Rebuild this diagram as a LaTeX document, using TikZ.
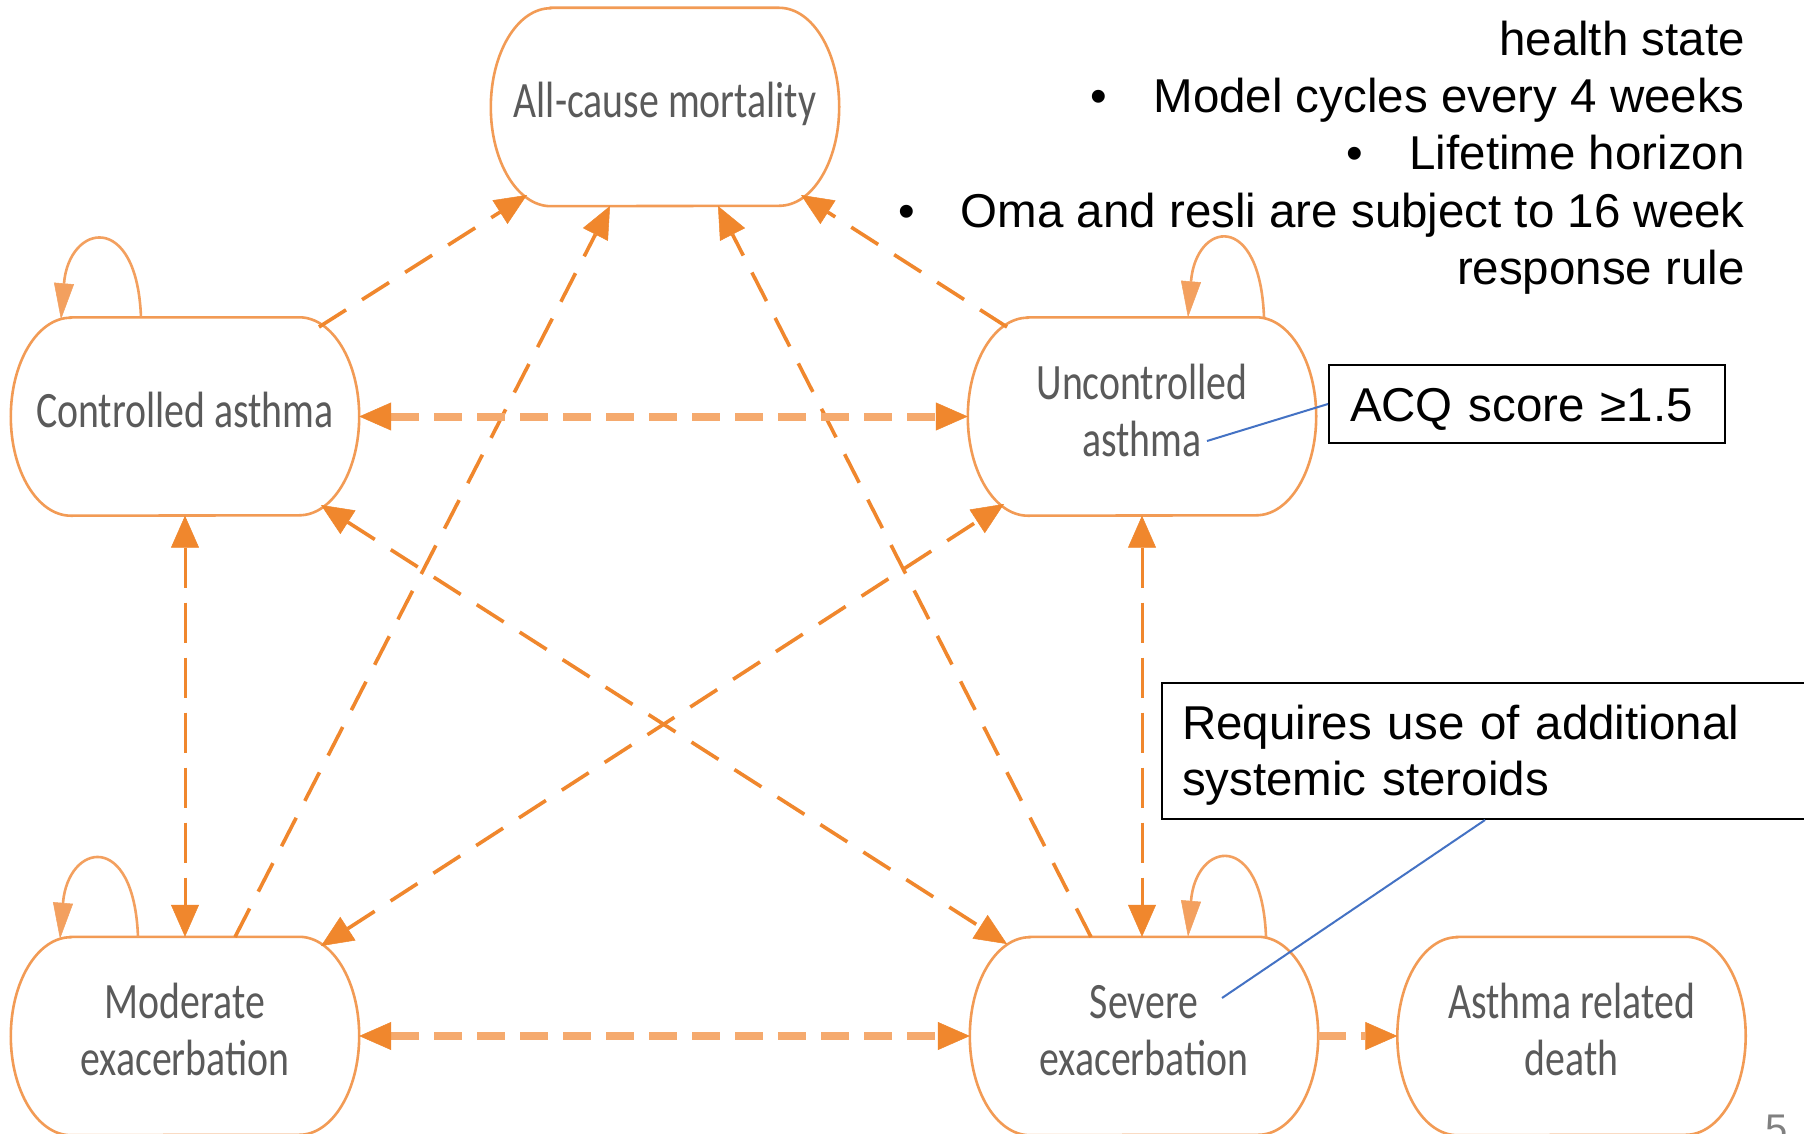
\documentclass[tikz,border=0pt]{standalone}
\usepackage{fontspec}
\setmainfont{Liberation Sans}
\newfontfamily\statefont[FakeStretch=0.78]{Carlito}
\usetikzlibrary{arrows.meta,calc}
\definecolor{arr}{RGB}{240,135,45}
\definecolor{arrlight}{RGB}{245,170,110}
\definecolor{boxline}{RGB}{242,155,85}
\definecolor{loopc}{RGB}{243,160,95}
\definecolor{statetxt}{RGB}{90,90,90}
\definecolor{leader}{RGB}{68,114,196}
\definecolor{pagenum}{RGB}{128,128,128}
\newcommand\sst{\rule[-14pt]{0pt}{50pt}}
\newcommand\rst{\rule[-12pt]{0pt}{52pt}}
\newcommand\stateoutline[1]{%
  \draw[stateline] ([xshift=60pt]#1.north west) -- ([xshift=-60pt]#1.north east)
    arc[start angle=90, end angle=-90, x radius=60pt, y radius=99pt]
    -- ([xshift=60pt]#1.south west)
    arc[start angle=270, end angle=90, x radius=60pt, y radius=99pt] -- cycle;}
\begin{document}
\begin{tikzpicture}[x=1pt,y=-1pt,
  state/.style={rectangle, minimum width=348pt, minimum height=198pt, inner sep=0pt,
    align=center, text=statetxt, font=\statefont\fontsize{51}{57}\selectfont},
  stateline/.style={draw=boxline, line width=2.6pt},
  diag/.style={draw=arr, line width=3.6pt, dash pattern=on 32pt off 19pt},
  vert/.style={draw=arr, line width=3pt, dash pattern=on 40pt off 15pt},
  horiz/.style={draw=arrlight, line width=8pt, dash pattern=on 28pt off 15pt},
  tip/.style={-{Triangle[length=32pt,width=28pt,color=arr,line width=0.5pt]}},
  tips/.style={{Triangle[length=32pt,width=28pt,color=arr,line width=0.5pt]}-{Triangle[length=32pt,width=28pt,color=arr,line width=0.5pt]}},
  selfloop/.style={draw=loopc, line width=2.6pt, -{Triangle[length=36pt,width=20pt,line width=0.5pt]}},
  note/.style={draw=black, line width=2pt, align=left, font=\fontsize{47.5}{56}\selectfont},
  leaderline/.style={draw=leader, line width=2pt},
]
\fill[white] (0,0) rectangle (1804,1134);
\useasboundingbox (0,0) rectangle (1804,1134);

% states
\node[state] (mort) at (665,107) {\sst All-cause mortality};
\node[state] (ca) at (185,416.5) {\sst Controlled asthma};
\node[state] (ua) at (1142,416.5) {\sst Uncontrolled\\\sst asthma};
\node[state] (me) at (185,1036) {\sst Moderate\\\sst exacerbation};
\node[state] (se) at (1144,1036) {\sst Severe\\\sst exacerbation};
\node[state] (ad) at (1571.5,1036) {\sst Asthma related\\\sst death};
\foreach \n in {mort,ca,ua,me,se,ad} {\stateoutline{\n}}

% transitions to mortality
\draw[diag,tip] ($(ca)+(134,-89.5)$) -- ($(mort)+(-138,88)$);
\draw[diag,tip] ($(me)+(50,-99)$) -- ($(mort)+(-55,99)$);
\draw[diag,tip] ($(se)+(-53,-99)$) -- ($(mort)+(53,99)$);
\draw[diag,tip] ($(ua)+(-135,-89.5)$) -- ($(mort)+(136,88)$);

% two-way transitions
\draw[horiz,tips] (ca.east) -- (ua.west);
\draw[vert,tips] (ca.south) -- (me.north);
\draw[diag,tips] ($(ca)+(136,88.5)$) -- ($(se)+(-137,-92)$);
\draw[diag,tips] ($(me)+(136,-90)$) -- ($(ua)+(-138,87.5)$);
\draw[vert,tips] (ua.south) -- (ua.south |- se.north);
\draw[horiz,tips] (me.east) -- (se.west);
\draw[horiz,tip] (se.east) -- (ad.west);

% self loops
\draw[selfloop] ($(ca.north)+(-44,0)$) .. controls +(-4,-107) and +(8,-96) .. ($(ca.north)+(-124,2)$);
\draw[selfloop] ($(ua.north)+(122,0)$) .. controls +(-4,-107) and +(8,-96) .. ($(ua.north)+(46,0)$);
\draw[selfloop] ($(me.north)+(-47,0)$) .. controls +(-4,-107) and +(8,-96) .. ($(me.north)+(-125,2)$);
\draw[selfloop] ($(se.north)+(122,0)$) .. controls +(-4,-107) and +(8,-96) .. ($(se.north)+(44,0)$);

% right-hand text
\node[anchor=north east, inner sep=0pt, align=right, font=\fontsize{47.5}{57.3}\selectfont] (bullets) at (1745,15)
  {\rst health state\\
   \rst •\hspace{46pt}Model cycles every 4 weeks\\
   \rst •\hspace{46pt}Lifetime horizon\\
   \rst •\hspace{46pt}Oma and resli are subject to 16 week\\
   \rst response rule};

% callouts
\node[note, anchor=north west, text width=354pt, inner xsep=21pt, inner ysep=13pt] (acq) at (1328,364)
  {\rule[-9pt]{0pt}{52pt}ACQ score ≥1.5};
\node[note, anchor=north west, text width=700pt, inner xsep=20pt, inner ysep=12pt] (req) at (1161,682)
  {\rule[-12pt]{0pt}{56pt}Requires use of additional\\\rule[-12pt]{0pt}{56pt}systemic steroids};
\coordinate (acqend) at (1207,441);
\coordinate (reqend) at (1222,998);
\draw[leaderline] (acq.west) -- (acqend);
\draw[leaderline] ($(req.south west)+(324,0)$) -- (reqend);

\node[anchor=base west, inner sep=0pt, text=pagenum, font=\fontsize{40}{48}\selectfont] (pgnum) at (1765,1142) {5};
\end{tikzpicture}
\end{document}
